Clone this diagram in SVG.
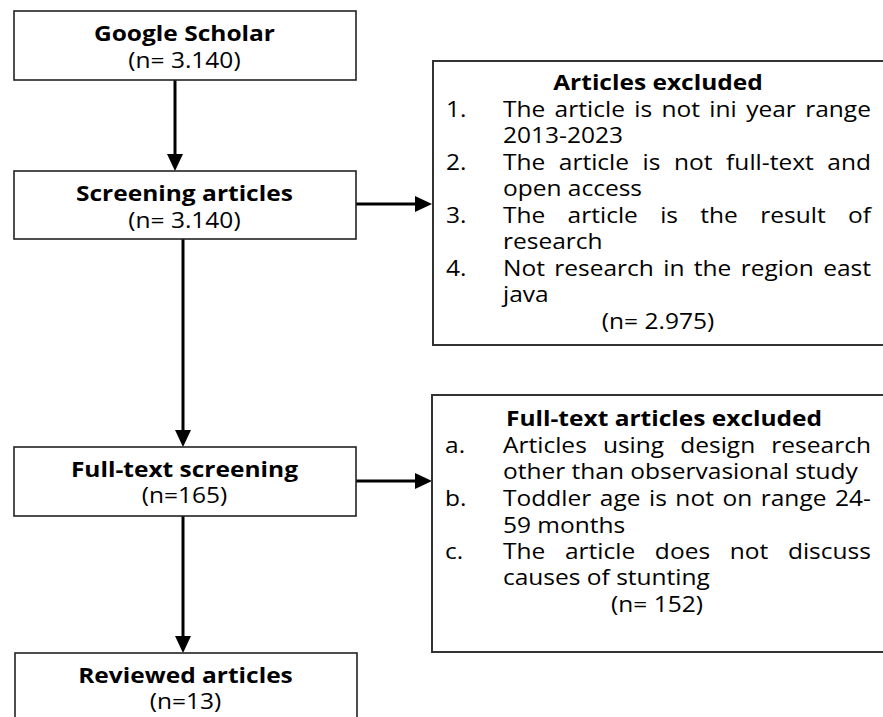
<svg xmlns="http://www.w3.org/2000/svg" width="883" height="717" viewBox="0 0 883 717">
<style>
  .box { fill: #ffffff; stroke: #222222; stroke-width: 1.6; }
  .xbox { fill: #ffffff; stroke: #333333; stroke-width: 2; }
  .t { font-family: "Open Sans", "Liberation Sans", sans-serif; font-size: 21.5px; fill: #000000; }
  .b { font-weight: bold; }
  .c { text-anchor: middle; }
  .conn { stroke: #000000; stroke-width: 3; fill: none; }
</style>
<defs>
  <marker id="ah" markerUnits="userSpaceOnUse" markerWidth="18" markerHeight="16" refX="7" refY="8" orient="auto">
    <path d="M0,0 L17,8 L0,16 Z" fill="#000000"/>
  </marker>
</defs>
<rect width="883" height="717" fill="#ffffff"/>

<g id="connectors">
  <line class="conn" x1="175" y1="80" x2="175" y2="161" marker-end="url(#ah)"/>
  <line class="conn" x1="183" y1="239" x2="183" y2="437" marker-end="url(#ah)"/>
  <line class="conn" x1="183" y1="516" x2="183" y2="643" marker-end="url(#ah)"/>
  <line class="conn" x1="356" y1="204" x2="422" y2="204" marker-end="url(#ah)"/>
  <line class="conn" x1="356" y1="481" x2="422" y2="481" marker-end="url(#ah)"/>
</g>

<g id="google-scholar">
  <rect class="box" x="14" y="11" width="342" height="69"/>
  <g transform="scale(1.14 1)">
    <text class="t b c" x="161.8" y="41">Google Scholar</text>
    <text class="t c" x="161.8" y="68">(n= 3.140)</text>
  </g>
</g>

<g id="screening-articles">
  <rect class="box" x="14" y="171" width="342" height="68"/>
  <g transform="scale(1.14 1)">
    <text class="t b c" x="161.8" y="201">Screening articles</text>
    <text class="t c" x="161.8" y="228">(n= 3.140)</text>
  </g>
</g>

<g id="full-text-screening">
  <rect class="box" x="14" y="447" width="342" height="69"/>
  <g transform="scale(1.14 1)">
    <text class="t b c" x="161.8" y="477">Full-text screening</text>
    <text class="t c" x="161.8" y="503">(n=165)</text>
  </g>
</g>

<g id="reviewed-articles">
  <rect class="box" x="15" y="653" width="342" height="80"/>
  <g transform="scale(1.14 1)">
    <text class="t b c" x="162.7" y="683">Reviewed articles</text>
    <text class="t c" x="162.7" y="709">(n=13)</text>
  </g>
</g>

<g id="articles-excluded">
  <rect class="xbox" x="433" y="61" width="470" height="284"/>
  <g transform="scale(1.14 1)">
    <text class="t b c" x="577.2" y="90">Articles excluded</text>
    <text class="t" x="391.2" y="117">1.</text>
    <text class="t" x="441.2" y="117" word-spacing="2.6" textLength="322.8" lengthAdjust="spacing">The article is not ini year range</text>
    <text class="t" x="441.2" y="143.5">2013-2023</text>
    <text class="t" x="391.2" y="170">2.</text>
    <text class="t" x="441.2" y="170" word-spacing="6.3" textLength="322.8" lengthAdjust="spacing">The article is not full-text and</text>
    <text class="t" x="441.2" y="196.5">open access</text>
    <text class="t" x="391.2" y="223">3.</text>
    <text class="t" x="441.2" y="223" word-spacing="14" textLength="322.8" lengthAdjust="spacing">The article is the result of</text>
    <text class="t" x="441.2" y="249.5">research</text>
    <text class="t" x="391.2" y="276">4.</text>
    <text class="t" x="441.2" y="276" word-spacing="2.7" textLength="322.8" lengthAdjust="spacing">Not research in the region east</text>
    <text class="t" x="441.2" y="302.5">java</text>
    <text class="t c" x="577.2" y="329">(n= 2.975)</text>
  </g>
</g>

<g id="full-text-articles-excluded">
  <rect class="xbox" x="432" y="395" width="470" height="257"/>
  <g transform="scale(1.14 1)">
    <text class="t b c" x="582.5" y="426">Full-text articles excluded</text>
    <text class="t" x="390.4" y="453">a.</text>
    <text class="t" x="441.2" y="453" word-spacing="8.5" textLength="322.8" lengthAdjust="spacing">Articles using design research</text>
    <text class="t" x="441.2" y="479">other than observasional study</text>
    <text class="t" x="390.4" y="506">b.</text>
    <text class="t" x="441.2" y="506" word-spacing="1.8" textLength="322.8" lengthAdjust="spacing">Toddler age is not on range 24-</text>
    <text class="t" x="441.2" y="533">59 months</text>
    <text class="t" x="390.4" y="559">c.</text>
    <text class="t" x="441.2" y="559" word-spacing="11.6" textLength="322.8" lengthAdjust="spacing">The article does not discuss</text>
    <text class="t" x="441.2" y="585">causes of stunting</text>
    <text class="t c" x="576.3" y="612">(n= 152)</text>
  </g>
</g>
</svg>
